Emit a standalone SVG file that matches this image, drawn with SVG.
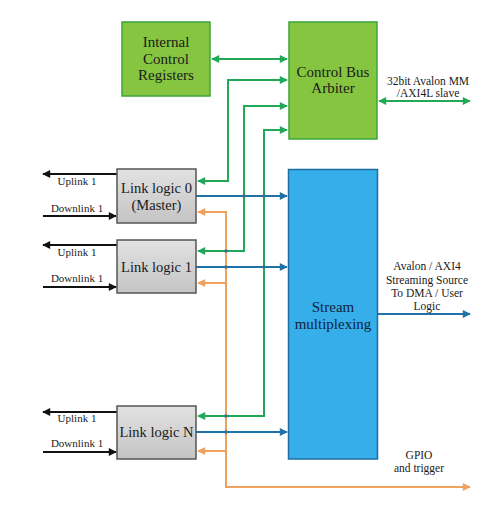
<svg xmlns="http://www.w3.org/2000/svg" width="500" height="511" viewBox="0 0 500 511">
<style>
.t{font-family:"Liberation Serif","DejaVu Serif",serif;fill:#1a1a1a;text-anchor:middle}
.box{font-size:15px}
.ll{font-size:14.5px}
.sm{font-size:11px}
.side{font-size:11.5px}
.gbox{fill:#86c540;stroke:#3aa53b;stroke-width:1.5}
.lbox{fill:url(#gg);stroke:#555;stroke-width:1.5}
.sbox{fill:#36aeea;stroke:#1e6fa0;stroke-width:1.5}
.g{fill:none;stroke:#21a957;stroke-width:2}
.b{fill:none;stroke:#1f72a8;stroke-width:2}
.o{fill:none;stroke:#f0a15e;stroke-width:2}
.k{fill:none;stroke:#111;stroke-width:2}
.dot{fill:#3a6f86}
</style>
<defs>
<linearGradient id="gg" x1="0" y1="0" x2="0" y2="1"><stop offset="0" stop-color="#e2e2e2"/><stop offset="1" stop-color="#c4c4c4"/></linearGradient>
<marker id="ag" viewBox="0 0 10 10" refX="9" refY="5" markerWidth="10" markerHeight="8" markerUnits="userSpaceOnUse" orient="auto-start-reverse"><path d="M0,0L10,5L0,10z" fill="#21a957"/></marker>
<marker id="ab" viewBox="0 0 10 10" refX="9" refY="5" markerWidth="10" markerHeight="8" markerUnits="userSpaceOnUse" orient="auto-start-reverse"><path d="M0,0L10,5L0,10z" fill="#1f72a8"/></marker>
<marker id="ao" viewBox="0 0 10 10" refX="9" refY="5" markerWidth="10" markerHeight="8" markerUnits="userSpaceOnUse" orient="auto-start-reverse"><path d="M0,0L10,5L0,10z" fill="#f0a15e"/></marker>
<marker id="ak" viewBox="0 0 10 10" refX="9" refY="5" markerWidth="10" markerHeight="8" markerUnits="userSpaceOnUse" orient="auto-start-reverse"><path d="M0,0L10,5L0,10z" fill="#111"/></marker>
</defs>
<rect width="500" height="511" fill="#fff"/>
<g id="connectors">
<path class="g" d="M212,59H287" marker-start="url(#ag)" marker-end="url(#ag)"/>
<path class="g" d="M198,181H228V80H287" marker-start="url(#ag)" marker-end="url(#ag)"/>
<path class="g" d="M198,251H244V106H287" marker-start="url(#ag)" marker-end="url(#ag)"/>
<path class="g" d="M198,416H264V130H287" marker-start="url(#ag)" marker-end="url(#ag)"/>
<path class="g" d="M379,101H470" marker-start="url(#ag)" marker-end="url(#ag)"/>
<path class="o" d="M198,212H226V487H470" marker-start="url(#ao)" marker-end="url(#ao)"/>
<path class="o" d="M198,283H226" marker-start="url(#ao)"/>
<path class="o" d="M198,451H226" marker-start="url(#ao)"/>
<path class="b" d="M196,196H287" marker-end="url(#ab)"/>
<path class="b" d="M196,267H287" marker-end="url(#ab)"/>
<path class="b" d="M196,432H287" marker-end="url(#ab)"/>
<path class="b" d="M378,314H470" marker-end="url(#ab)"/>
<path class="k" d="M117,174H43" marker-end="url(#ak)"/>
<path class="k" d="M43,216H116" marker-end="url(#ak)"/>
<path class="k" d="M117,245H43" marker-end="url(#ak)"/>
<path class="k" d="M43,287H116" marker-end="url(#ak)"/>
<path class="k" d="M117,412H43" marker-end="url(#ak)"/>
<path class="k" d="M43,452H116" marker-end="url(#ak)"/>
<circle class="dot" cx="244" cy="196" r="1.8"/>
<circle class="dot" cx="264" cy="196" r="1.8"/>
<circle class="dot" cx="226" cy="251" r="1.8"/>
<circle class="dot" cx="226" cy="267" r="1.8"/>
<circle class="dot" cx="264" cy="267" r="1.8"/>
<circle class="dot" cx="226" cy="416" r="1.8"/>
<circle class="dot" cx="226" cy="432" r="1.8"/>
<text class="t sm" x="77" y="185">Uplink 1</text>
<text class="t sm" x="77" y="211.5">Downlink 1</text>
<text class="t sm" x="77" y="256">Uplink 1</text>
<text class="t sm" x="77" y="282">Downlink 1</text>
<text class="t sm" x="77" y="422">Uplink 1</text>
<text class="t sm" x="77" y="447">Downlink 1</text>
<text class="t side" x="428" y="85">32bit Avalon MM</text>
<text class="t side" x="428" y="97">/AXI4L slave</text>
<text class="t side" x="427" y="270">Avalon / AXI4</text>
<text class="t side" x="427" y="283.5">Streaming Source</text>
<text class="t side" x="427" y="297">To DMA / User</text>
<text class="t side" x="427" y="310">Logic</text>
<text class="t side" x="419" y="459">GPIO</text>
<text class="t side" x="419" y="472">and trigger</text>
</g>
<g id="icr">
<rect class="gbox" x="122" y="22" width="88" height="74"/>
<text class="t box" x="166" y="46.5">Internal</text>
<text class="t box" x="166" y="63.5">Control</text>
<text class="t box" x="166" y="80">Registers</text>
</g>
<g id="cba">
<rect class="gbox" x="289" y="22" width="88" height="117"/>
<text class="t box" x="333" y="76.5">Control Bus</text>
<text class="t box" x="333" y="93">Arbiter</text>
</g>
<g id="stream">
<rect class="sbox" x="288.5" y="169.5" width="89" height="289.5"/>
<text class="t box" x="333" y="311.5" style="fill:#10243a">Stream</text>
<text class="t box" x="333" y="329" style="fill:#10243a">multiplexing</text>
</g>
<g id="ll0">
<rect class="lbox" x="117" y="169" width="79" height="54"/>
<text class="t ll" x="156.5" y="193">Link logic 0</text>
<text class="t ll" x="156.5" y="210">(Master)</text>
</g>
<g id="ll1">
<rect class="lbox" x="117" y="240" width="79" height="53"/>
<text class="t ll" x="156.5" y="272">Link logic 1</text>
</g>
<g id="lln">
<rect class="lbox" x="117" y="406" width="79" height="53"/>
<text class="t ll" x="156.5" y="437">Link logic N</text>
</g>
</svg>
